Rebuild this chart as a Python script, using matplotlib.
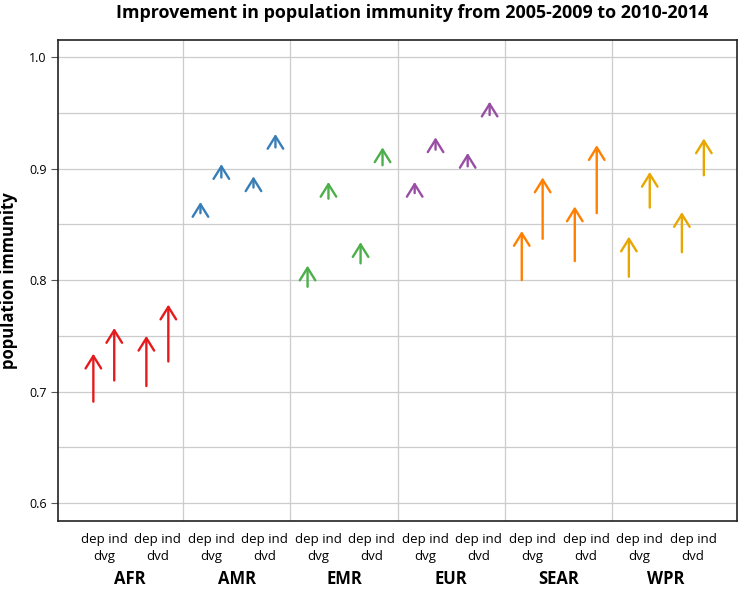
import matplotlib.pyplot as plt
from matplotlib.ticker import MultipleLocator

plt.rcParams['font.family'] = ['Open Sans', 'DejaVu Sans']

# regions and the four estimates per region: dep dvg, ind dvg, dep dvd, ind dvd
regions = ['AFR', 'AMR', 'EMR', 'EUR', 'SEAR', 'WPR']
sub_labels = ['dep ind\ndvg', 'dep ind\ndvd']
colors = ['#e41a1c', '#377eb8', '#4daf4a', '#984ea3', '#ff7f00', '#e8a700']

# population immunity 2005-2009 (arrow tail)
imm_2005 = [
    [0.691, 0.710, 0.705, 0.727],
    [0.860, 0.892, 0.883, 0.919],
    [0.794, 0.873, 0.815, 0.903],
    [0.878, 0.917, 0.902, 0.948],
    [0.800, 0.837, 0.817, 0.860],
    [0.803, 0.865, 0.825, 0.894],
]
# population immunity 2010-2014 (arrow head)
imm_2010 = [
    [0.734, 0.757, 0.750, 0.778],
    [0.870, 0.904, 0.893, 0.931],
    [0.813, 0.888, 0.834, 0.919],
    [0.888, 0.928, 0.914, 0.960],
    [0.844, 0.892, 0.866, 0.921],
    [0.839, 0.897, 0.861, 0.927],
]

offsets = [0.16, 0.355, 0.655, 0.86]
label_offsets = [0.26, 0.76]

fig = plt.figure(figsize=(7.4, 5.9), dpi=100)
ax = fig.add_axes([0.0784, 0.117, 0.9176, 0.815])

for i, reg in enumerate(regions):
    for j in range(4):
        ax.annotate('', xy=(i + offsets[j], imm_2010[i][j]),
                    xytext=(i + offsets[j], imm_2005[i][j]),
                    arrowprops=dict(arrowstyle='->,head_length=0.45,head_width=0.28',
                                    color=colors[i], lw=1.7, mutation_scale=20,
                                    shrinkA=0, shrinkB=0))

ax.set_xlim(-0.17, 6.17)
ax.set_ylim(0.584, 1.0152)

ax.yaxis.set_minor_locator(MultipleLocator(0.05))
ax.set_yticks([0.6, 0.7, 0.8, 0.9, 1.0])
ax.set_yticklabels(['0.6', '0.7', '0.8', '0.9', '1.0'], fontsize=9)
ax.tick_params(axis='y', which='major', length=5, width=0.8, color='#555555', pad=3)
ax.tick_params(axis='y', which='minor', length=0)
ax.grid(axis='y', which='both', color='#cccccc', lw=0.9)

ax.set_xticks(range(1, 6))
ax.set_xticklabels([])
ax.tick_params(axis='x', length=0)
ax.grid(axis='x', color='#cccccc', lw=0.9)
ax.set_axisbelow(True)

for s in ax.spines.values():
    s.set_linewidth(1.2)
    s.set_color('#222222')

for i, reg in enumerate(regions):
    for k, lab in enumerate(sub_labels):
        ax.text(i + label_offsets[k], -0.025, lab, transform=ax.get_xaxis_transform(),
                ha='center', va='top', fontsize=9.5, linespacing=1.45)
    ax.text(i + 0.5, -0.102, reg, transform=ax.get_xaxis_transform(),
            ha='center', va='top', fontsize=12, fontweight='bold')

ax.set_ylabel('population immunity', fontsize=12, fontweight='bold', labelpad=8)
fig.text(0.557, 0.978, 'Improvement in population immunity from 2005-2009 to 2010-2014',
         ha='center', va='center', fontsize=12.9, fontweight='bold')

fig.savefig('out.png', dpi=100)
